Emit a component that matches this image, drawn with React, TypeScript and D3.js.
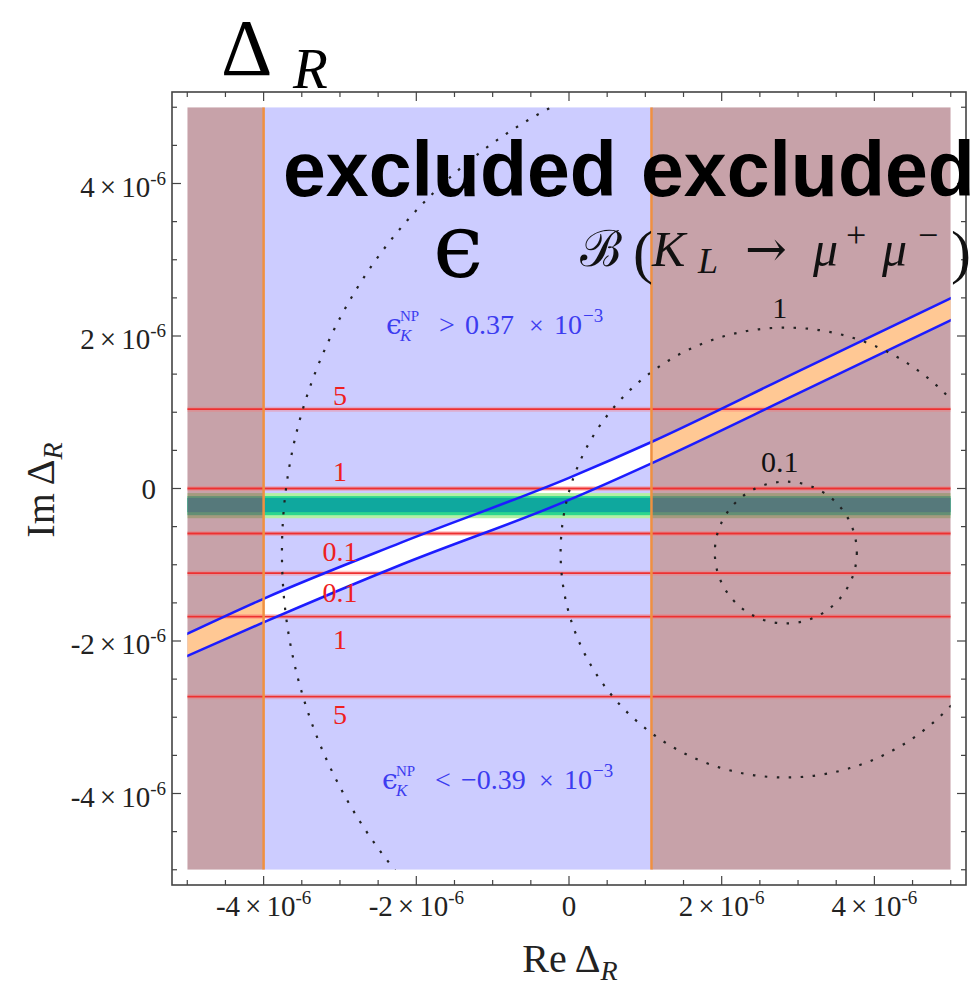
import * as d3 from "d3";
import React from "react";

// all values in units of 1e-6
const regionEdges = [-5, -4, 1.08, 5];
const majorTicks = [-4, -2, 0, 2, 4];
const minorTicks = [-5, -4.5, -3.5, -3, -2.5, -1.5, -1, -0.5, 0.5, 1, 1.5, 2.5, 3, 3.5, 4.5, 5];
const tickMant = ["-4", "-2", "0", "2", "4"];

const redLevels = [1.04, 0, -0.59, -1.11, -1.68, -2.73];
const redLabels = ["5", "1", "0.1", "0.1", "1", "5"];
const redLabelY = [1.09, 0.1, -0.95, -1.49, -2.1, -3.09];

const bandLo = [-0.39, -0.35, -0.31];
const bandHi = [-0.06, -0.1, -0.125];

const stripeX = [-5.01, -4.01, -2.2, 0, 1.08, 3.03, 5.01];
const stripeUpper = [-1.91, -1.45, -0.71, 0.14, 0.61, 1.55, 2.5];
const stripeLower = [-2.2, -1.76, -1.0, -0.15, 0.33, 1.26, 2.21];

const circleCenter = [2.84, -0.84];
const circleRadii = [0.93, 2.95, 6.6];
const circleLabels = ["0.1", "1", "5"];

const x = d3.scaleLinear().domain([-5.2, 5.2]).range([172, 966]);
const y = d3.scaleLinear().domain([-5.2, 5.2]).range([885, 92]);

const serif = "'Liberation Serif', 'DejaVu Serif', serif";
const lavender = "#ccccff";
const brown = "rgb(150,80,92)";
const bandColors = ["#b4f0a4", "#2cd68e", "#0fa89e"];

const EpsLabel = ({x0, y0, rel, num, off}: {x0: number; y0: number; rel: string; num: string; off: number}) => {
    const c = "#3c3cf0";
    return (
        <g fill={c} fontFamily={serif}>
            <text x={x0} y={y0} fontSize={28} fontFamily="'DejaVu Serif', serif">ϵ</text>
            <text x={x0 + 14} y={y0 - 13} fontSize={15}>NP</text>
            <text x={x0 + 14} y={y0 + 7} fontSize={17} fontStyle="italic">K</text>
            <text x={x0 + 53} y={y0} fontSize={28}>{rel}</text>
            <text x={x0 + 79} y={y0} fontSize={28}>{num}</text>
            <text x={x0 + 165 + off} y={y0} fontSize={26}>×</text>
            <text x={x0 + 190 + off} y={y0} fontSize={28}>10</text>
            <text x={x0 + 219 + off} y={y0 - 12} fontSize={19}>−3</text>
        </g>
    );
};

const App = () => {
    const fx0 = x(-5), fx1 = x(5), fy0 = y(5), fy1 = y(-5);
    const pts = stripeX.map((v, i) => ({x: v, hi: stripeUpper[i], lo: stripeLower[i]}));
    const lineHi = d3.line<any>().x(d => x(d.x)).y(d => y(d.hi)).curve(d3.curveMonotoneX);
    const lineLo = d3.line<any>().x(d => x(d.x)).y(d => y(d.lo)).curve(d3.curveMonotoneX);
    const areaPath = d3.area<any>().x(d => x(d.x)).y0(d => y(d.lo)).y1(d => y(d.hi)).curve(d3.curveMonotoneX)(pts) || "";
    const sx = x(1) - x(0), sy = y(0) - y(1);

    const tickLines = (pos: number, len: number) => {
        const xp = x(pos), yp = y(pos);
        return (
            <g key={"t" + pos}>
                <line x1={xp} x2={xp} y1={885} y2={885 - len} />
                <line x1={xp} x2={xp} y1={92} y2={92 + len} />
                <line x1={172} x2={172 + len} y1={yp} y2={yp} />
                <line x1={966} x2={966 - len} y1={yp} y2={yp} />
            </g>
        );
    };

    const expLabel = (m: string) => (
        <>
            <tspan>{m}</tspan><tspan dx={5}>×</tspan><tspan dx={5}>10</tspan>
            <tspan dy={-12} fontSize={19}>-6</tspan>
        </>
    );

    return (
        <svg width={980} height={994} style={{position: "absolute", left: 0, top: 0, background: "#fff"}}>
            <defs>
                <clipPath id="plot"><rect x={fx0} y={fy0} width={fx1 - fx0} height={fy1 - fy0} /></clipPath>
                <clipPath id="mid"><rect x={x(regionEdges[1])} y={fy0} width={x(regionEdges[2]) - x(regionEdges[1])} height={fy1 - fy0} /></clipPath>
                <clipPath id="sides">
                    <rect x={fx0} y={fy0} width={x(regionEdges[1]) - fx0} height={fy1 - fy0} />
                    <rect x={x(regionEdges[2])} y={fy0} width={fx1 - x(regionEdges[2])} height={fy1 - fy0} />
                </clipPath>
            </defs>

            <g clipPath="url(#plot)">
                <rect x={x(regionEdges[1])} y={fy0} width={x(regionEdges[2]) - x(regionEdges[1])} height={fy1 - fy0} fill={lavender} />
                <path d={areaPath} fill="#ffffff" clipPath="url(#mid)" />
                {bandLo.map((lo, i) => (
                    <rect key={"b" + i} x={fx0} width={fx1 - fx0} y={y(bandHi[i])} height={y(lo) - y(bandHi[i])} fill={bandColors[i]} />
                ))}
                <rect x={fx0} y={fy0} width={x(regionEdges[1]) - fx0} height={fy1 - fy0} fill={brown} fillOpacity={0.53} />
                <rect x={x(regionEdges[2])} y={fy0} width={fx1 - x(regionEdges[2])} height={fy1 - fy0} fill={brown} fillOpacity={0.53} />
                <path d={areaPath} fill="#ffc894" clipPath="url(#sides)" />
                {redLevels.map((v, i) => (
                    <g key={"r" + i}>
                        <line x1={fx0} x2={fx1} y1={y(v)} y2={y(v)} stroke="#ff7070" strokeOpacity={0.35} strokeWidth={5} />
                        <line x1={fx0} x2={fx1} y1={y(v)} y2={y(v)} stroke="#ee3030" strokeWidth={1.8} />
                    </g>
                ))}
                <path d={lineHi(pts) || ""} fill="none" stroke="#1c1cff" strokeWidth={2.5} />
                <path d={lineLo(pts) || ""} fill="none" stroke="#1c1cff" strokeWidth={2.5} />
                {circleRadii.map((r, i) => (
                    <ellipse key={"c" + i} cx={x(circleCenter[0])} cy={y(circleCenter[1])} rx={r * sx} ry={r * sy}
                             fill="none" stroke="#222" strokeWidth={2.2} strokeDasharray="2.5 9.5" />
                ))}
                {[regionEdges[1], regionEdges[2]].map(v => (
                    <line key={"o" + v} x1={x(v)} x2={x(v)} y1={fy0} y2={fy1} stroke="#f09040" strokeWidth={2.5} />
                ))}
                {circleLabels.map((t, i) => (
                    <text key={"cl" + i} x={x(circleCenter[0]) - 6} y={y(circleCenter[1]) - circleRadii[i] * sy - 10}
                          fontFamily={serif} fontSize={30} textAnchor="middle" fill="#111">{t}</text>
                ))}
            </g>

            {/* frame */}
            <rect x={172} y={92} width={794} height={793} fill="none" stroke="#444" strokeWidth={1.6} />
            <g stroke="#444" strokeWidth={1.2}>
                {majorTicks.map(v => tickLines(v, 9))}
                {minorTicks.map(v => tickLines(v, 5))}
            </g>

            {/* tick labels */}
            <g fontFamily={serif} fill="#222" fontSize={29}>
                {majorTicks.map((v, i) => v === 0 ? (
                    <g key={"tl" + v}>
                        <text x={x(v)} y={916} textAnchor="middle">0</text>
                        <text x={156} y={y(v) + 10} textAnchor="end">0</text>
                    </g>
                ) : (
                    <g key={"tl" + v}>
                        <text x={x(v)} y={916} textAnchor="middle">{expLabel(tickMant[i])}</text>
                        <text x={166} y={y(v) + 13} textAnchor="end">{expLabel(tickMant[i])}</text>
                    </g>
                ))}
            </g>

            {/* red contour labels */}
            <g fontFamily={serif} fill="#ee2020" fontSize={28} textAnchor="middle">
                {redLabels.map((t, i) => (
                    <text key={"rl" + i} x={x(-3.0)} y={y(redLabelY[i])}>{t}</text>
                ))}
            </g>

            <EpsLabel x0={386} y0={334} rel=">" num="0.37" off={-22} />
            <EpsLabel x0={382} y0={789} rel="<" num="−0.39" off={-8} />

            {/* big labels */}
            <g fontFamily="'Liberation Sans', Arial, sans-serif" fontWeight="bold" fontSize={77} fill="#000">
                <text x={283} y={196}>excluded</text>
                <text x={641} y={196}>excluded</text>
            </g>
            <text x={433} y={277} fontFamily="'DejaVu Serif', serif" fontSize={90} fill="#000">ϵ</text>

            <g fontFamily={serif} fill="#111">
                <text x={580} y={266} fontSize={50} fontFamily="'DejaVu Serif', serif">ℬ</text>
                <text x={633} y={272} fontSize={60}>(</text>
                <text x={652} y={266} fontSize={50} fontStyle="italic">K</text>
                <text x={698} y={273} fontSize={36} fontStyle="italic">L</text>
                <text x={745} y={266} fontSize={50} fontFamily="'DejaVu Serif', serif">→</text>
                <text x={813} y={266} fontSize={50} fontStyle="italic">μ</text>
                <text x={846} y={247} fontSize={36}>+</text>
                <text x={882} y={266} fontSize={50} fontStyle="italic">μ</text>
                <text x={918} y={247} fontSize={36}>−</text>
                <text x={951} y={272} fontSize={60}>)</text>
            </g>

            {/* title */}
            <text x={221} y={75} fontFamily={serif} fontSize={80} fill="#000">Δ</text>
            <text x={293} y={88} fontFamily={serif} fontSize={57} fontStyle="italic" fill="#000">R</text>

            {/* axis titles */}
            <text x={570} y={972} fontFamily={serif} fontSize={40} textAnchor="middle" fill="#222">
                <tspan>Re</tspan><tspan dx={8}>Δ</tspan><tspan dy={8} fontSize={28} fontStyle="italic">R</tspan>
            </text>
            <text transform="translate(54,490) rotate(-90)" fontFamily={serif} fontSize={40} textAnchor="middle" fill="#222">
                <tspan>Im</tspan><tspan dx={8}>Δ</tspan><tspan dy={8} fontSize={28} fontStyle="italic">R</tspan>
            </text>
        </svg>
    );
};

export default App;
